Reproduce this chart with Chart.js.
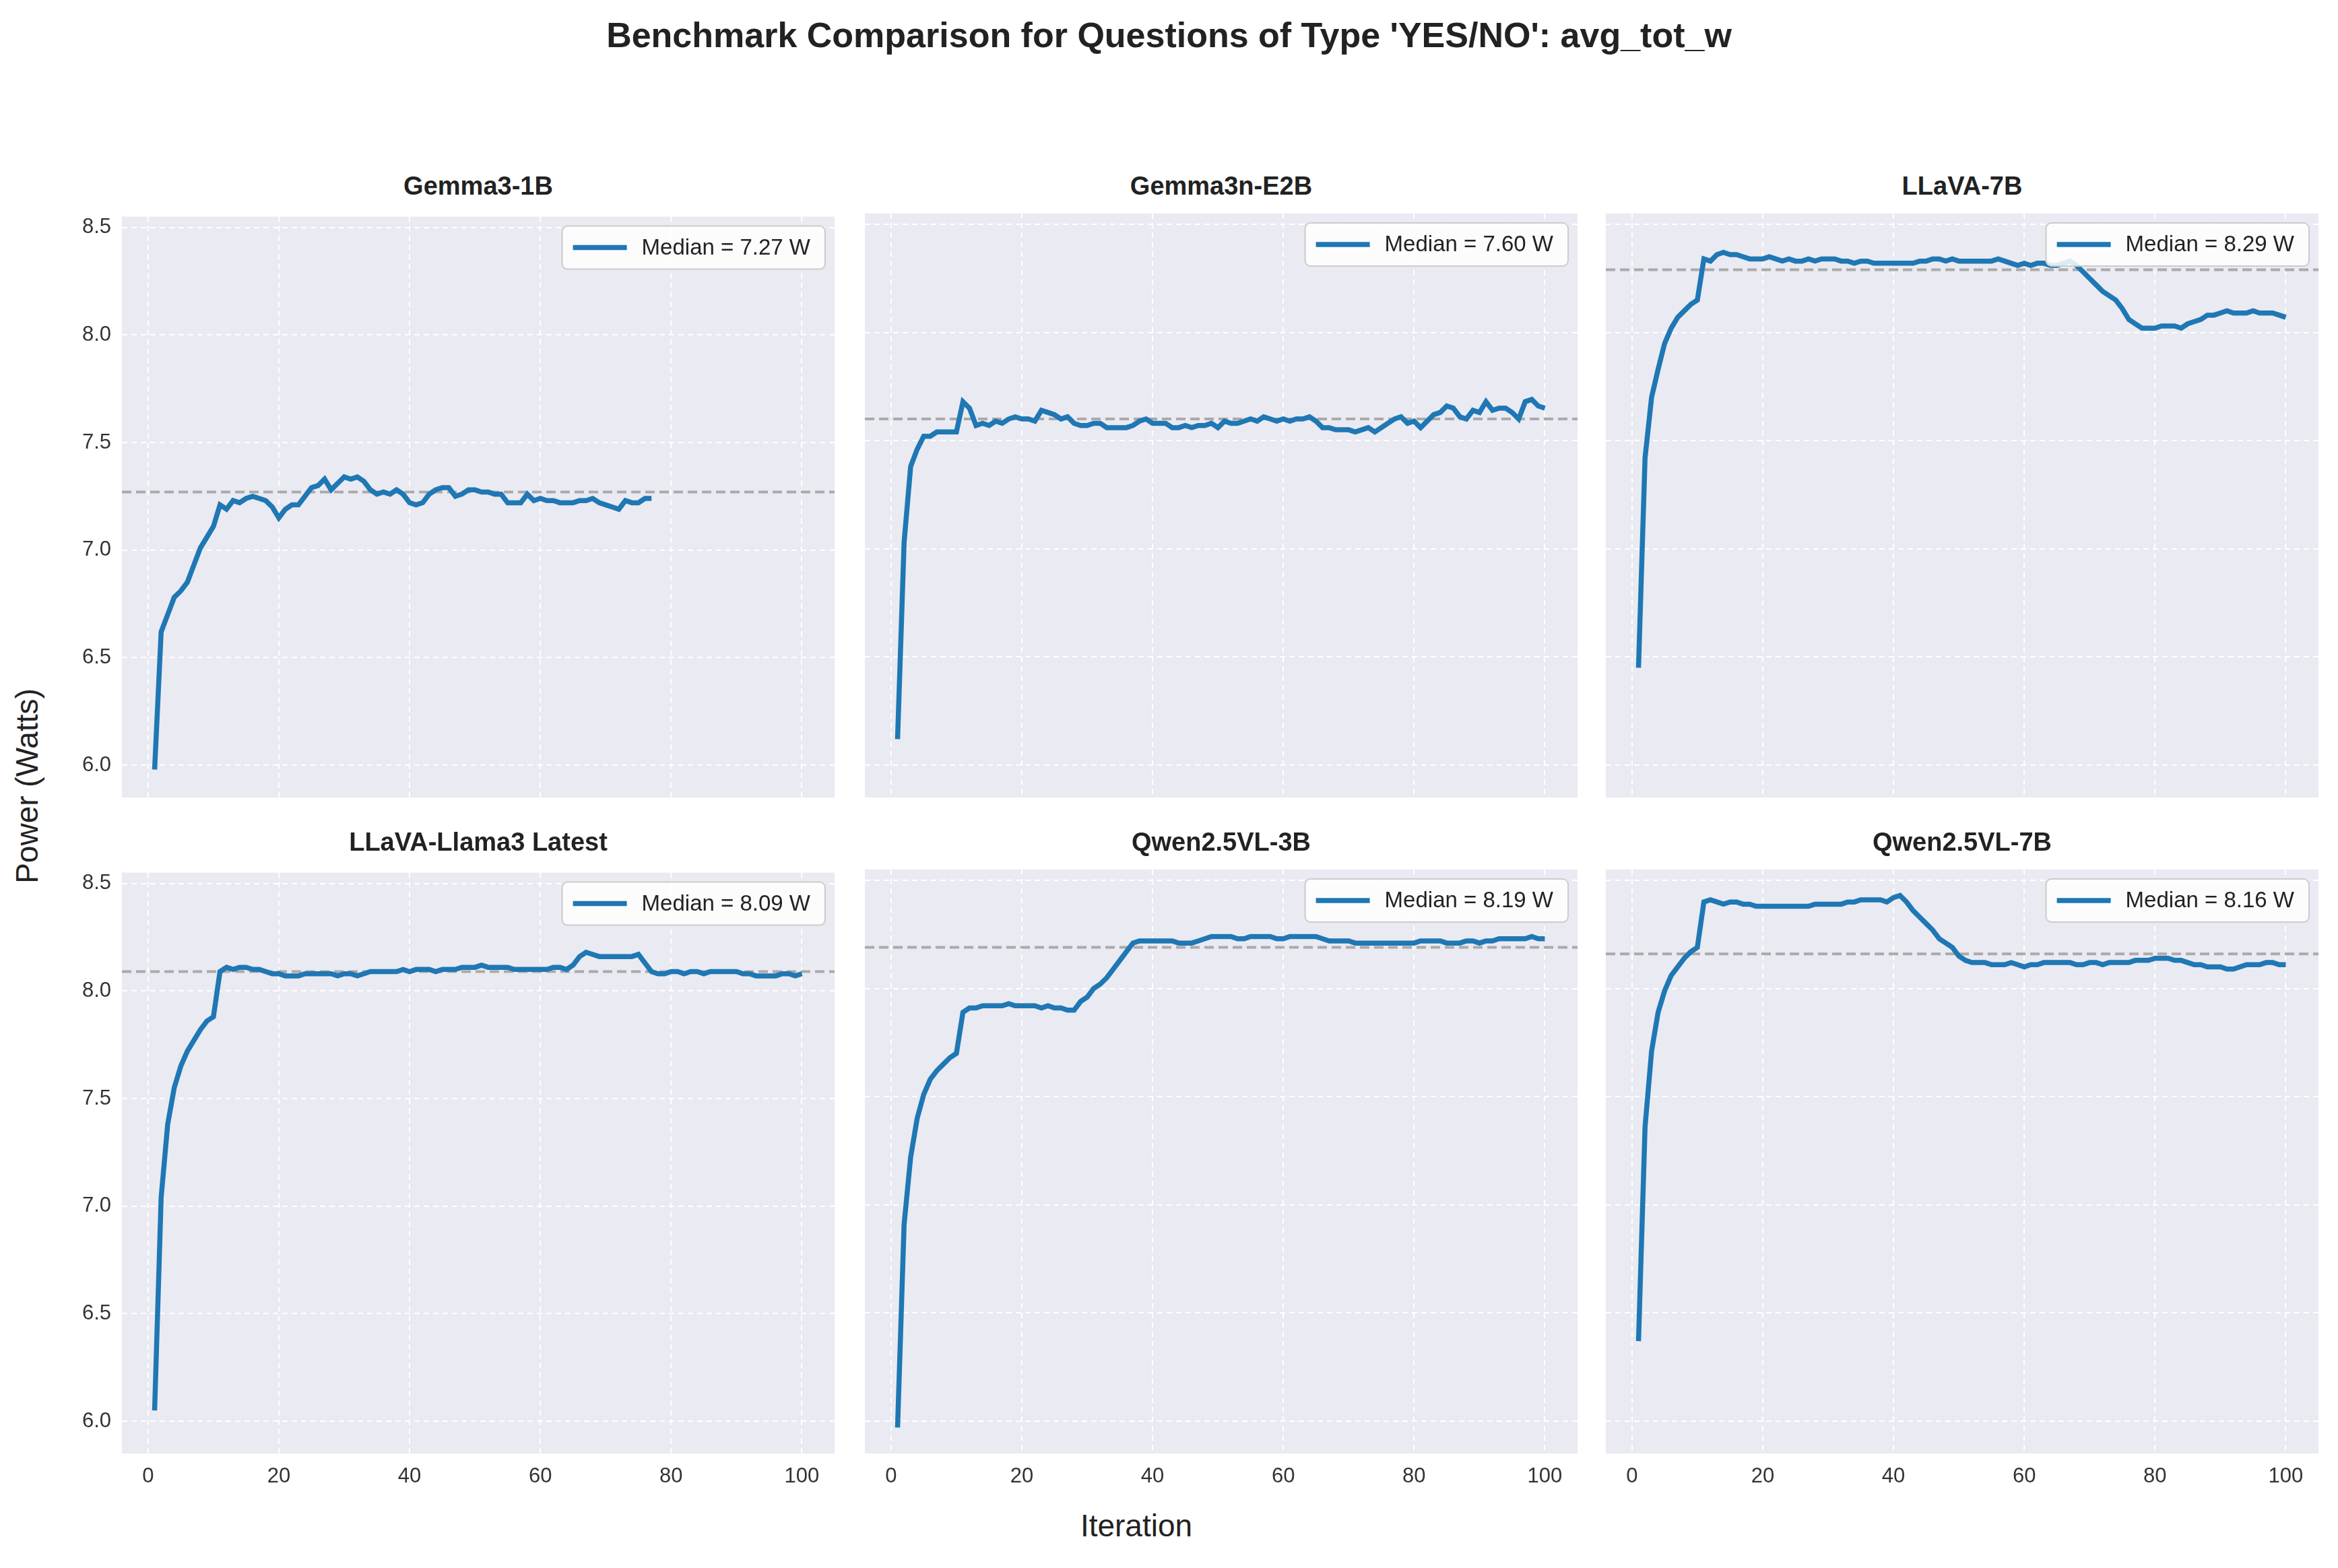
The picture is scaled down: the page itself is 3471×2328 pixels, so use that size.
<!DOCTYPE html>
<html>
<head>
<meta charset="utf-8">
<script src="https://cdn.jsdelivr.net/npm/chart.js@4.4.0/dist/chart.umd.min.js"></script>
<style>
  body { margin: 0; background: #fff; font-family: "Liberation Sans", Arial, sans-serif; }
  #page { position: relative; width: 3471px; height: 2328px; }
  .box { position: absolute; }
  .ptitle { position: absolute; font-weight: bold; font-size: 38px; color: #222; text-align: center; }
  .lbl { position: absolute; font-size: 46px; color: #222; white-space: nowrap; }
</style>
</head>
<body>
<div id="page">
  <div class="lbl" style="left:0;width:3471px;top:22px;text-align:center;font-weight:bold;font-size:52px;">Benchmark Comparison for Questions of Type 'YES/NO': avg_tot_w</div>
  <div class="lbl" style="left:1387px;width:600px;top:2238px;text-align:center;">Iteration</div>
  <div class="lbl" style="left:-160px;width:400px;top:1140px;transform:rotate(-90deg);text-align:center;">Power (Watts)</div>
</div>
<script>
// Panel titles and medians
const titles = ['Gemma3-1B', 'Gemma3n-E2B', 'LLaVA-7B', 'LLaVA-Llama3 Latest', 'Qwen2.5VL-3B', 'Qwen2.5VL-7B'];
const medians = [7.27, 7.60, 8.29, 8.09, 8.19, 8.16];
const xTicks = [0, 20, 40, 60, 80, 100];
const yTicks = [6.0, 6.5, 7.0, 7.5, 8.0, 8.5];

const gemma1b = [5.98, 6.62, 6.70, 6.78, 6.81, 6.85, 6.93, 7.01, 7.06, 7.11, 7.21, 7.19, 7.23, 7.22, 7.24, 7.25, 7.24, 7.23, 7.20, 7.15, 7.19, 7.21, 7.21, 7.25, 7.29, 7.30, 7.33, 7.28, 7.31, 7.34, 7.33, 7.34, 7.32, 7.28, 7.26, 7.27, 7.26, 7.28, 7.26, 7.22, 7.21, 7.22, 7.26, 7.28, 7.29, 7.29, 7.25, 7.26, 7.28, 7.28, 7.27, 7.27, 7.26, 7.26, 7.22, 7.22, 7.22, 7.26, 7.23, 7.24, 7.23, 7.23, 7.22, 7.22, 7.22, 7.23, 7.23, 7.24, 7.22, 7.21, 7.20, 7.19, 7.23, 7.22, 7.22, 7.24, 7.24];
const gemma3n = [6.12, 7.03, 7.38, 7.46, 7.52, 7.52, 7.54, 7.54, 7.54, 7.54, 7.68, 7.65, 7.57, 7.58, 7.57, 7.59, 7.58, 7.60, 7.61, 7.60, 7.60, 7.59, 7.64, 7.63, 7.62, 7.60, 7.61, 7.58, 7.57, 7.57, 7.58, 7.58, 7.56, 7.56, 7.56, 7.56, 7.57, 7.59, 7.60, 7.58, 7.58, 7.58, 7.56, 7.56, 7.57, 7.56, 7.57, 7.57, 7.58, 7.56, 7.59, 7.58, 7.58, 7.59, 7.60, 7.59, 7.61, 7.60, 7.59, 7.60, 7.59, 7.60, 7.60, 7.61, 7.59, 7.56, 7.56, 7.55, 7.55, 7.55, 7.54, 7.55, 7.56, 7.54, 7.56, 7.58, 7.60, 7.61, 7.58, 7.59, 7.56, 7.59, 7.62, 7.63, 7.66, 7.65, 7.61, 7.60, 7.64, 7.63, 7.68, 7.64, 7.65, 7.65, 7.63, 7.60, 7.68, 7.69, 7.66, 7.65];
const llava7b = [6.45, 7.42, 7.70, 7.83, 7.95, 8.02, 8.07, 8.10, 8.13, 8.15, 8.34, 8.33, 8.36, 8.37, 8.36, 8.36, 8.35, 8.34, 8.34, 8.34, 8.35, 8.34, 8.33, 8.34, 8.33, 8.33, 8.34, 8.33, 8.34, 8.34, 8.34, 8.33, 8.33, 8.32, 8.33, 8.33, 8.32, 8.32, 8.32, 8.32, 8.32, 8.32, 8.32, 8.33, 8.33, 8.34, 8.34, 8.33, 8.34, 8.33, 8.33, 8.33, 8.33, 8.33, 8.33, 8.34, 8.33, 8.32, 8.31, 8.32, 8.31, 8.32, 8.32, 8.31, 8.31, 8.32, 8.33, 8.31, 8.28, 8.25, 8.22, 8.19, 8.17, 8.15, 8.11, 8.06, 8.04, 8.02, 8.02, 8.02, 8.03, 8.03, 8.03, 8.02, 8.04, 8.05, 8.06, 8.08, 8.08, 8.09, 8.10, 8.09, 8.09, 8.09, 8.10, 8.09, 8.09, 8.09, 8.08, 8.07];
const llavaLlama3 = [6.05, 7.04, 7.38, 7.55, 7.65, 7.72, 7.77, 7.82, 7.86, 7.88, 8.09, 8.11, 8.10, 8.11, 8.11, 8.10, 8.10, 8.09, 8.08, 8.08, 8.07, 8.07, 8.07, 8.08, 8.08, 8.08, 8.08, 8.08, 8.07, 8.08, 8.08, 8.07, 8.08, 8.09, 8.09, 8.09, 8.09, 8.09, 8.10, 8.09, 8.10, 8.10, 8.10, 8.09, 8.10, 8.10, 8.10, 8.11, 8.11, 8.11, 8.12, 8.11, 8.11, 8.11, 8.11, 8.10, 8.10, 8.10, 8.10, 8.10, 8.10, 8.11, 8.11, 8.10, 8.12, 8.16, 8.18, 8.17, 8.16, 8.16, 8.16, 8.16, 8.16, 8.16, 8.17, 8.13, 8.09, 8.08, 8.08, 8.09, 8.09, 8.08, 8.09, 8.09, 8.08, 8.09, 8.09, 8.09, 8.09, 8.09, 8.08, 8.08, 8.07, 8.07, 8.07, 8.07, 8.08, 8.08, 8.07, 8.08];
const qwen3b = [5.97, 6.91, 7.22, 7.40, 7.51, 7.58, 7.62, 7.65, 7.68, 7.70, 7.89, 7.91, 7.91, 7.92, 7.92, 7.92, 7.92, 7.93, 7.92, 7.92, 7.92, 7.92, 7.91, 7.92, 7.91, 7.91, 7.90, 7.90, 7.94, 7.96, 8.00, 8.02, 8.05, 8.09, 8.13, 8.17, 8.21, 8.22, 8.22, 8.22, 8.22, 8.22, 8.22, 8.21, 8.21, 8.21, 8.22, 8.23, 8.24, 8.24, 8.24, 8.24, 8.23, 8.23, 8.24, 8.24, 8.24, 8.24, 8.23, 8.23, 8.24, 8.24, 8.24, 8.24, 8.24, 8.23, 8.22, 8.22, 8.22, 8.22, 8.21, 8.21, 8.21, 8.21, 8.21, 8.21, 8.21, 8.21, 8.21, 8.21, 8.22, 8.22, 8.22, 8.22, 8.21, 8.21, 8.21, 8.22, 8.22, 8.21, 8.22, 8.22, 8.23, 8.23, 8.23, 8.23, 8.23, 8.24, 8.23, 8.23];
const qwen7b = [6.37, 7.36, 7.71, 7.89, 7.99, 8.06, 8.10, 8.14, 8.17, 8.19, 8.40, 8.41, 8.40, 8.39, 8.40, 8.40, 8.39, 8.39, 8.38, 8.38, 8.38, 8.38, 8.38, 8.38, 8.38, 8.38, 8.38, 8.39, 8.39, 8.39, 8.39, 8.39, 8.40, 8.40, 8.41, 8.41, 8.41, 8.41, 8.40, 8.42, 8.43, 8.40, 8.36, 8.33, 8.30, 8.27, 8.23, 8.21, 8.19, 8.15, 8.13, 8.12, 8.12, 8.12, 8.11, 8.11, 8.11, 8.12, 8.11, 8.10, 8.11, 8.11, 8.12, 8.12, 8.12, 8.12, 8.12, 8.11, 8.11, 8.12, 8.12, 8.11, 8.12, 8.12, 8.12, 8.12, 8.13, 8.13, 8.13, 8.14, 8.14, 8.14, 8.13, 8.13, 8.12, 8.11, 8.11, 8.10, 8.10, 8.10, 8.09, 8.09, 8.10, 8.11, 8.11, 8.11, 8.12, 8.12, 8.11, 8.11];
const series = [gemma1b, gemma3n, llava7b, llavaLlama3, qwen3b, qwen7b];

// plot-area geometry (px)
const colLeft = [181, 1284, 2384];
const rowTop = [317, 1291];
const plotW = 1058, plotH = 867;
const padL = 130, padB = 75, padT = 30, padR = 30;

const panelPlugin = {
    id: 'panel',
    beforeDraw(chart) {
        const a = chart.chartArea, c = chart.ctx;
        c.save();
        c.fillStyle = '#eaeaf2';
        c.fillRect(a.left, a.top, a.right - a.left, a.bottom - a.top);
        c.restore();
    },
    beforeDatasetsDraw(chart, args, opts) {
        const a = chart.chartArea, c = chart.ctx;
        const y = chart.scales.y.getPixelForValue(opts.median);
        c.save();
        c.strokeStyle = '#aaaaaa';
        c.lineWidth = 4;
        c.setLineDash([14, 7]);
        c.beginPath();
        c.moveTo(a.left, y);
        c.lineTo(a.right, y);
        c.stroke();
        c.restore();
    },
    afterDraw(chart, args, opts) {
        const a = chart.chartArea, c = chart.ctx;
        const text = 'Median = ' + opts.median.toFixed(2) + ' W';
        c.save();
        c.font = '33px "Liberation Sans", Arial, sans-serif';
        const tw = c.measureText(text).width;
        const w = tw + 140, h = 64;
        const x = a.right - w - 14, y = a.top + 14;
        c.fillStyle = 'rgba(255,255,255,0.85)';
        c.strokeStyle = '#cccccc';
        c.lineWidth = 2;
        c.beginPath();
        c.roundRect(x, y, w, h, 8);
        c.fill();
        c.stroke();
        c.strokeStyle = '#1f77b4';
        c.lineWidth = 7.5;
        c.beginPath();
        c.moveTo(x + 16, y + h / 2);
        c.lineTo(x + 96, y + h / 2);
        c.stroke();
        c.fillStyle = '#222';
        c.textBaseline = 'middle';
        c.fillText(text, x + 118, y + h / 2 + 1);
        c.restore();
    }
};

const page = document.getElementById('page');
series.forEach((vals, i) => {
    const col = i % 3, row = Math.floor(i / 3);
    const left = colLeft[col] - padL, top = rowTop[row] - padT;
    const w = plotW + padL + padR, h = plotH + padT + padB;

    const t = document.createElement('div');
    t.className = 'ptitle';
    t.style.left = colLeft[col] + 'px';
    t.style.width = plotW + 'px';
    t.style.top = (rowTop[row] - 62) + 'px';
    t.textContent = titles[i];
    page.appendChild(t);

    const box = document.createElement('div');
    box.className = 'box';
    box.style.left = left + 'px';
    box.style.top = top + 'px';
    box.style.width = w + 'px';
    box.style.height = h + 'px';
    const cv = document.createElement('canvas');
    box.appendChild(cv);
    page.appendChild(box);

    new Chart(cv, {
        type: 'line',
        data: {
            datasets: [{
                data: vals.map((v, k) => ({ x: k + 1, y: v })),
                borderColor: '#1f77b4',
                borderWidth: 7.5,
                pointRadius: 0,
                tension: 0
            }]
        },
        options: {
            responsive: true,
            maintainAspectRatio: false,
            animation: false,
            devicePixelRatio: 1,
            layout: { padding: { top: padT, right: padR, left: 0, bottom: 0 } },
            plugins: {
                legend: { display: false },
                tooltip: { enabled: false },
                panel: { median: medians[i] }
            },
            scales: {
                x: {
                    type: 'linear', min: -4, max: 105,
                    afterBuildTicks: s => { s.ticks = xTicks.map(v => ({ value: v })); },
                    afterFit: s => { s.height = padB; },
                    grid: { color: '#ffffff', lineWidth: 2, drawTicks: false },
                    border: { display: false, dash: [8, 6] },
                    ticks: {
                        display: row === 1, color: '#333', padding: 16,
                        font: { size: 31, family: '"Liberation Sans", Arial, sans-serif' }
                    }
                },
                y: {
                    min: 5.85, max: 8.55,
                    afterBuildTicks: s => { s.ticks = yTicks.map(v => ({ value: v })); },
                    afterFit: s => { s.width = padL; },
                    grid: { color: '#ffffff', lineWidth: 2, drawTicks: false },
                    border: { display: false, dash: [8, 6] },
                    ticks: {
                        display: col === 0, color: '#333', padding: 16,
                        callback: v => v.toFixed(1),
                        font: { size: 31, family: '"Liberation Sans", Arial, sans-serif' }
                    }
                }
            }
        },
        plugins: [panelPlugin]
    });
});
</script>
</body>
</html>
